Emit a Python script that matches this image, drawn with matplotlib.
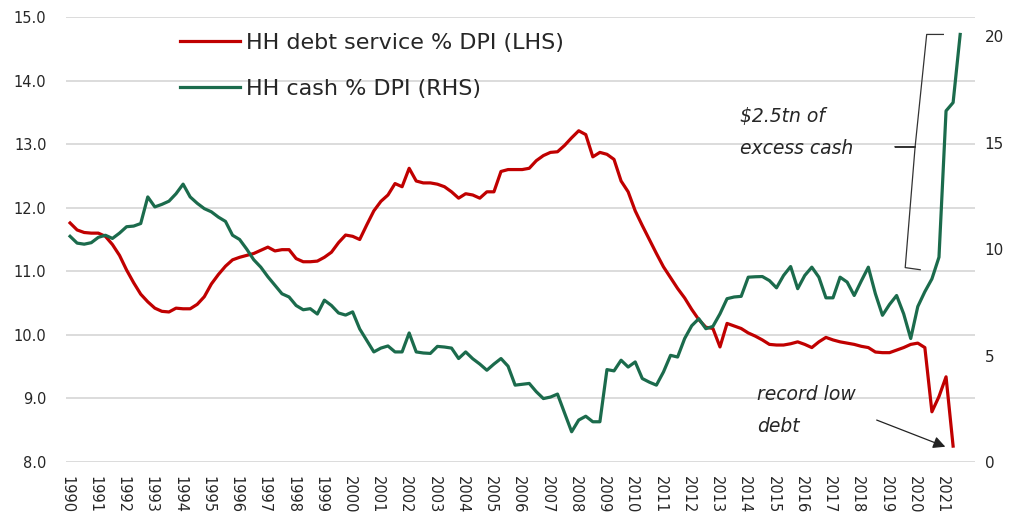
import numpy as np
import matplotlib
matplotlib.use("Agg")
import matplotlib.pyplot as plt
from matplotlib.lines import Line2D

# ---------------- data (quarterly, from 1990Q1) ----------------
debt_service = [
    11.76, 11.65, 11.61, 11.60, 11.60, 11.55, 11.42, 11.25, 11.02, 10.82,
    10.64, 10.52, 10.42, 10.37, 10.36, 10.42, 10.41, 10.41, 10.48, 10.60,
    10.80, 10.95, 11.08, 11.18, 11.22, 11.25, 11.28, 11.33, 11.38, 11.32,
    11.34, 11.34, 11.20, 11.15, 11.15, 11.16, 11.22, 11.30, 11.45, 11.57,
    11.55, 11.50, 11.73, 11.95, 12.10, 12.20, 12.38, 12.33, 12.62, 12.42,
    12.39, 12.39, 12.37, 12.33, 12.25, 12.15, 12.22, 12.20, 12.15, 12.25,
    12.25, 12.57, 12.60, 12.60, 12.60, 12.62, 12.74, 12.82, 12.87, 12.88,
    12.98, 13.10, 13.21, 13.15, 12.80, 12.87, 12.84, 12.76, 12.42, 12.25,
    11.95, 11.72, 11.50, 11.28, 11.07, 10.90, 10.73, 10.58, 10.40, 10.24,
    10.12, 10.10, 9.81, 10.18, 10.14, 10.10, 10.03, 9.98, 9.92, 9.85,
    9.84, 9.84, 9.86, 9.89, 9.85, 9.80, 9.89, 9.96, 9.92, 9.89,
    9.87, 9.85, 9.82, 9.80, 9.73, 9.72, 9.72, 9.76, 9.80, 9.85,
    9.87, 9.80, 8.79, 9.03, 9.34, 8.25,
]

cash = [
    10.60, 10.28, 10.23, 10.30, 10.55, 10.65, 10.50, 10.75, 11.05, 11.08,
    11.20, 12.45, 11.98, 12.10, 12.25, 12.60, 13.05, 12.45, 12.15, 11.90,
    11.75, 11.50, 11.30, 10.65, 10.45, 10.00, 9.50, 9.15, 8.70, 8.30,
    7.90, 7.75, 7.35, 7.15, 7.20, 6.95, 7.60, 7.35, 7.00, 6.90,
    7.05, 6.25, 5.71, 5.17, 5.35, 5.45, 5.17, 5.17, 6.06, 5.17,
    5.12, 5.10, 5.43, 5.40, 5.35, 4.86, 5.17, 4.85, 4.60, 4.31,
    4.60, 4.86, 4.50, 3.61, 3.65, 3.69, 3.30, 2.98, 3.05, 3.19,
    2.30, 1.42, 1.97, 2.15, 1.89, 1.89, 4.34, 4.28, 4.78, 4.46,
    4.70, 3.92, 3.75, 3.61, 4.23, 5.01, 4.93, 5.80, 6.40, 6.73,
    6.26, 6.37, 6.96, 7.67, 7.75, 7.78, 8.68, 8.70, 8.71, 8.52,
    8.18, 8.76, 9.18, 8.14, 8.76, 9.15, 8.68, 7.71, 7.71, 8.68,
    8.45, 7.82, 8.50, 9.15, 7.90, 6.89, 7.40, 7.82, 6.96, 5.80,
    7.30, 8.00, 8.60, 9.62, 16.49, 16.88, 20.08,
]

years = list(range(1990, 2022))
year_labels = [str(y) for y in years]
left_ticks = [8, 9, 10, 11, 12, 13, 14, 15]
right_ticks = [0, 5, 10, 15, 20]

label_debt = "HH debt service % DPI (LHS)"
label_cash = "HH cash % DPI (RHS)"

# quarterly dates (mid-quarter positions)
x_debt = 1990 + (np.arange(len(debt_service)) + 0.5) / 4
x_cash = 1990 + (np.arange(len(cash)) + 0.5) / 4

RED = "#c00000"
GREEN = "#1b6b4c"
GRID = "#d9d9d9"
TXT = "#262626"

plt.rcParams["font.family"] = ["DejaVu Sans"]

fig = plt.figure(figsize=(10.26, 5.24), dpi=100)
ax = fig.add_axes([0.0643, 0.1183, 0.886, 0.8493])
ax2 = ax.twinx()

ax.plot(x_debt, debt_service, color=RED, lw=2.3, solid_joinstyle="round")
ax2.plot(x_cash, cash, color=GREEN, lw=2.3, solid_joinstyle="round")

ax.set_xlim(1989.98, 2022.15)
ax.set_ylim(8, 15)
ax2.set_ylim(0, 20.9)

ax.set_yticks(left_ticks)
ax.set_yticklabels([f"{v:.1f}" for v in left_ticks])
ax2.set_yticks(right_ticks)
ax2.set_yticklabels([str(v) for v in right_ticks])
ax.set_xticks(years)
ax.set_xticklabels(year_labels, rotation=-90, va="top", ha="center")

ax.grid(axis="y", color=GRID, lw=1.3)
ax.set_axisbelow(True)
for a in (ax, ax2):
    for s in a.spines.values():
        s.set_visible(False)
ax.tick_params(axis="y", length=0, pad=14, labelsize=10.5, labelcolor=TXT)
ax2.tick_params(axis="y", length=0, pad=7, labelsize=11, labelcolor=TXT)
ax.tick_params(axis="x", length=0, pad=10, labelsize=10.5, labelcolor=TXT)

# legend
handles = [Line2D([], [], color=RED, lw=2.3), Line2D([], [], color=GREEN, lw=2.3)]
ax2.legend(handles, [label_debt, label_cash], loc="upper left",
           bbox_to_anchor=(0.125, 0.964), frameon=False, fontsize=16,
           handlelength=2.7, handletextpad=0.3, labelspacing=1.16,
           borderpad=0, borderaxespad=0, labelcolor=TXT)

# annotation: excess cash with brace
ax.text(2013.84, 13.35, "$2.5tn of", style="italic", fontsize=13.5,
        color=TXT, ha="left", va="baseline")
ax.text(2013.84, 12.85, "excess cash", style="italic", fontsize=13.5,
        color=TXT, ha="left", va="baseline")
bx = [2021.03, 2020.44, 2020.03, 2019.32, 2020.03, 2019.68, 2020.21]
by = [20.08, 20.08, 14.8, 14.8, 14.8, 9.13, 9.03]
ax2.plot(bx, by, color="#333333", lw=0.9)

# annotation: record low debt
ax.text(2014.44, 8.97, "record low", style="italic", fontsize=13.5,
        color=TXT, ha="left", va="baseline")
ax.text(2014.44, 8.47, "debt", style="italic", fontsize=13.5,
        color=TXT, ha="left", va="baseline")
ax.annotate("", xy=(2021.1, 8.24), xytext=(2018.67, 8.66),
            arrowprops=dict(arrowstyle="-|>", color="#222222", lw=0.9,
                            mutation_scale=18, shrinkA=0, shrinkB=0))

fig.savefig("out.png", dpi=100)
